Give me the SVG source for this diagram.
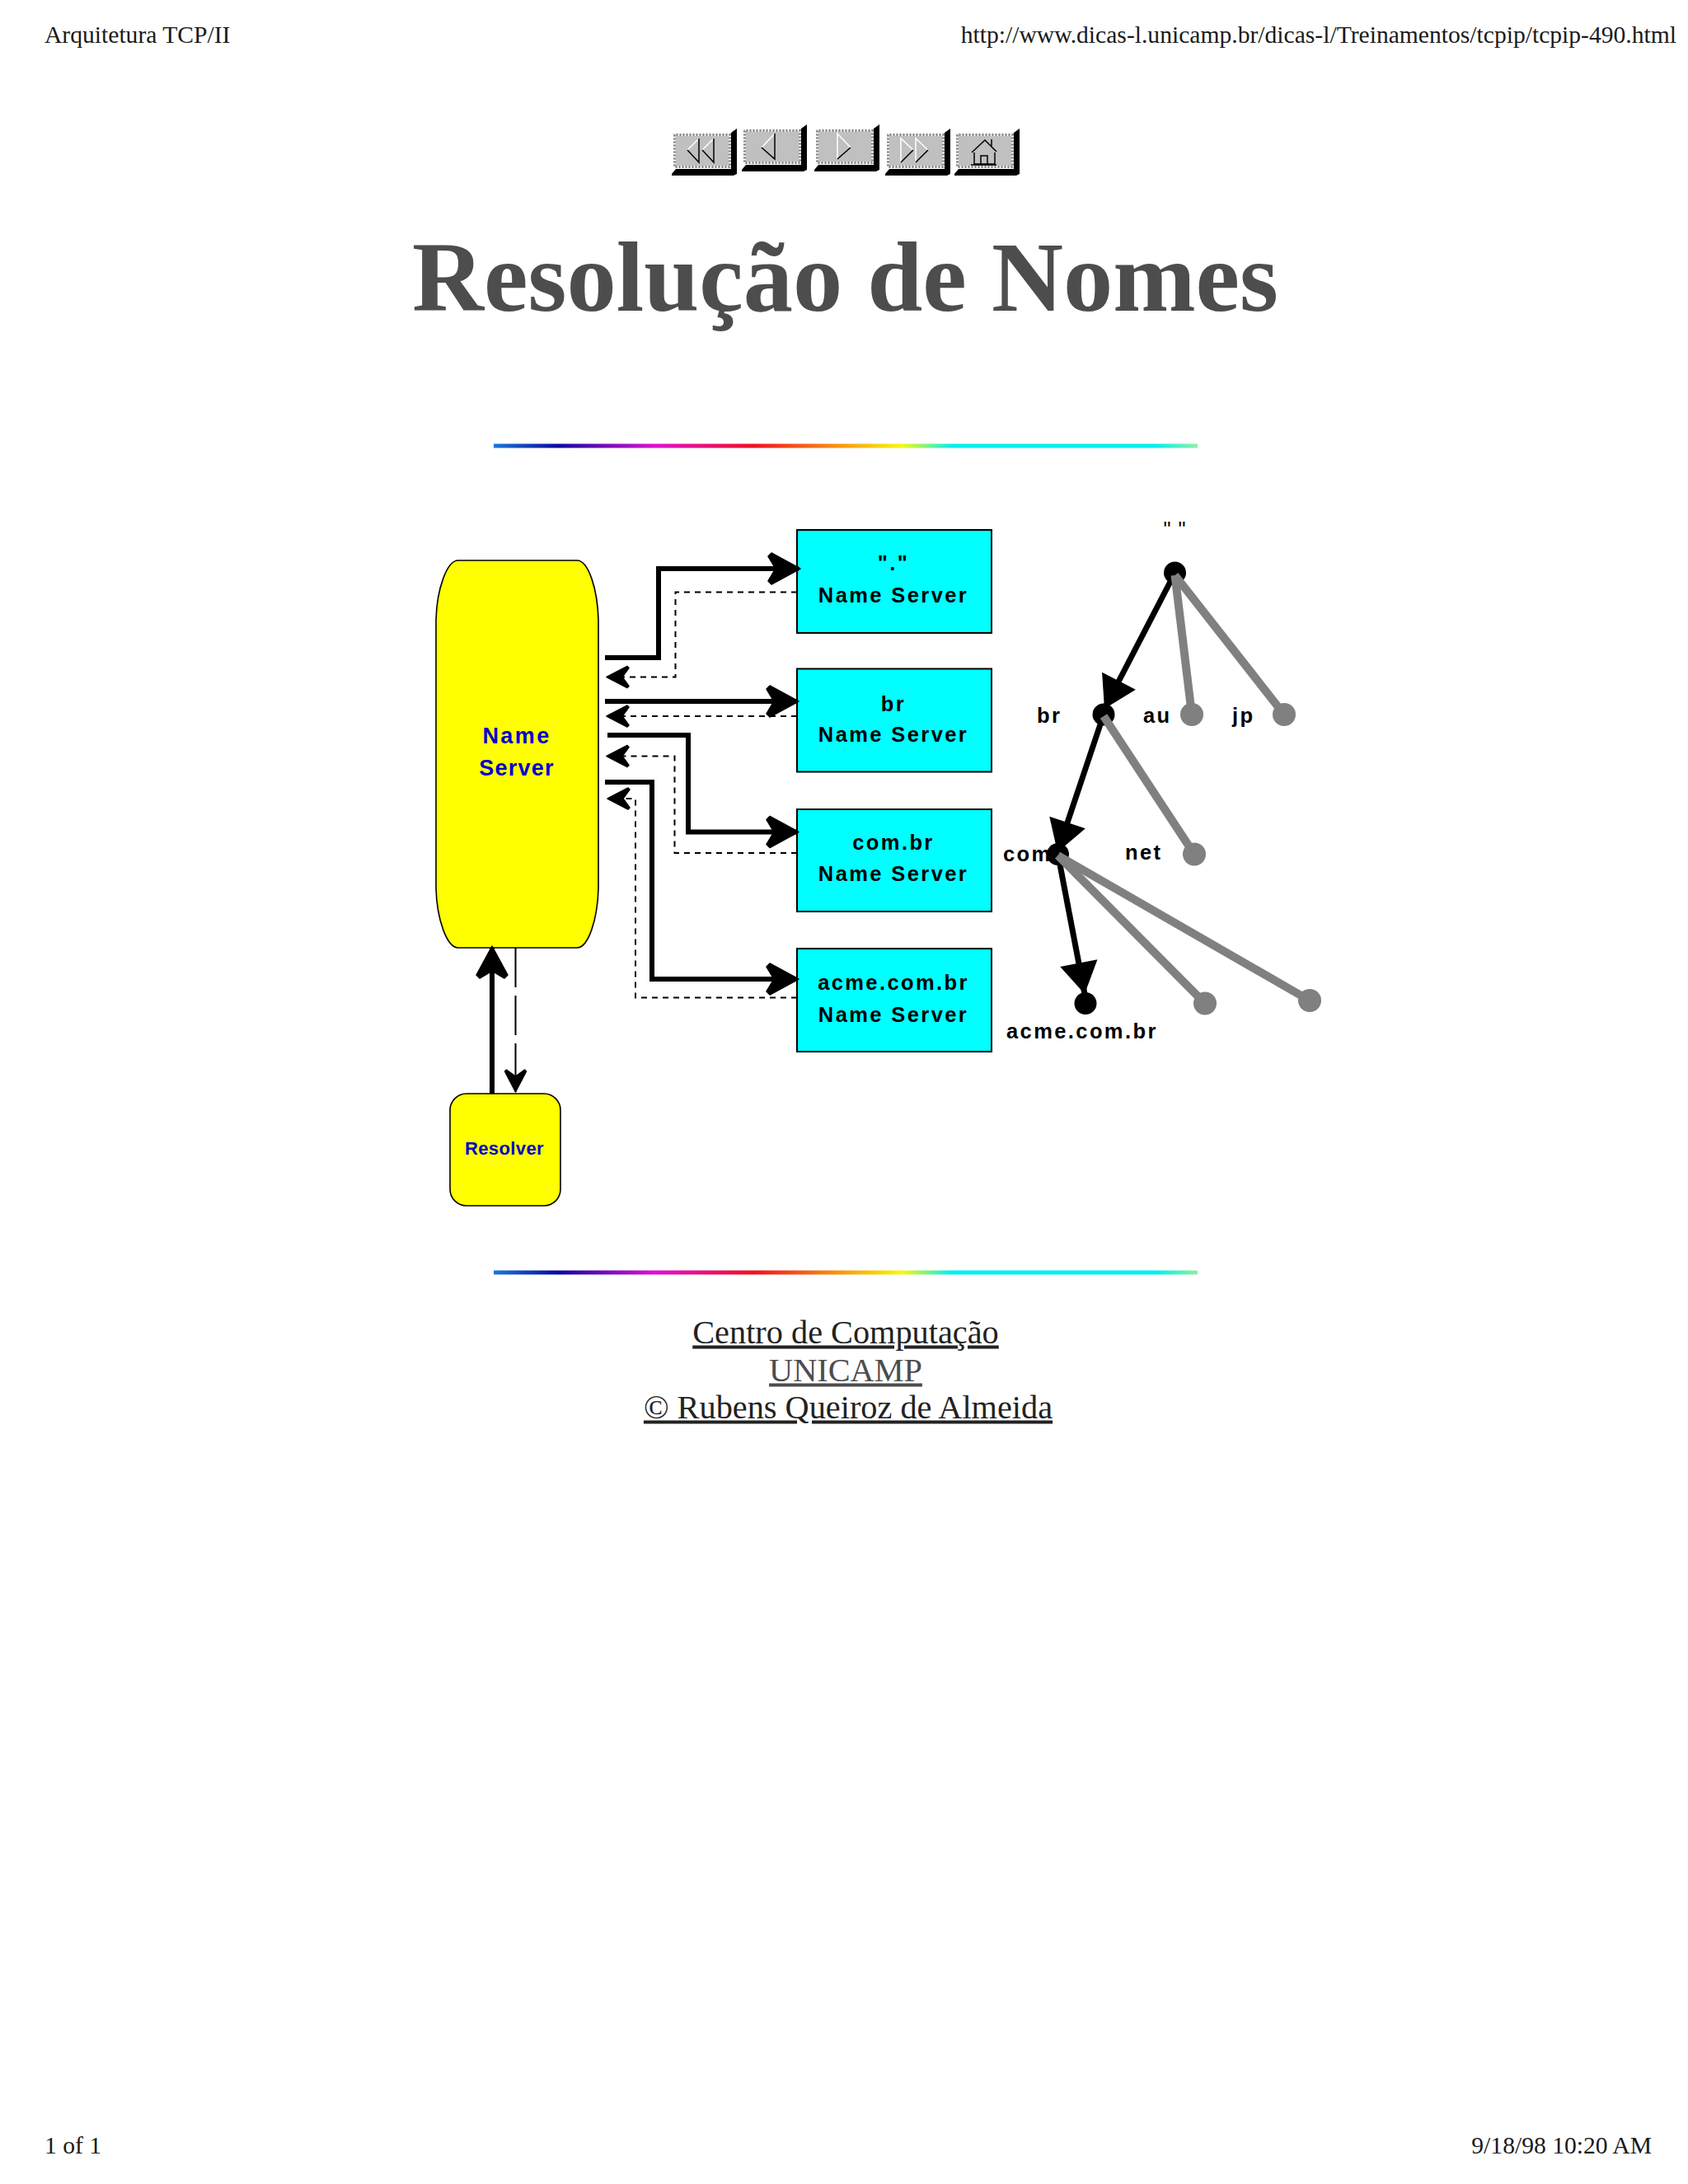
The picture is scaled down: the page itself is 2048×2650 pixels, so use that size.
<svg xmlns="http://www.w3.org/2000/svg" width="2048" height="2650" viewBox="0 0 2048 2650">
<style>
text{font-family:"Liberation Serif","Times New Roman",serif}
.hdr{font-size:29.6px;fill:#1a1a1a}
.title{font-size:120.5px;font-weight:bold;fill:#4d4d4d;text-anchor:middle}
.foot{font-size:40.3px;fill:#222;text-anchor:middle;text-decoration:underline}
.lbl,.tl,.blue{font-family:"Liberation Sans",Arial,sans-serif;font-weight:bold}
.lbl{font-size:25.5px;letter-spacing:2.4px;fill:#000;text-anchor:middle}
.tl{font-size:25.5px;letter-spacing:2.4px;fill:#000}
.blue{fill:#0000cc;text-anchor:middle}
.box{fill:#00ffff;stroke:#000;stroke-width:2}
.yel{fill:#ffff00;stroke:#000;stroke-width:1.6}
.s{fill:none;stroke:#000;stroke-width:6}
.d{fill:none;stroke:#000;stroke-width:2;stroke-dasharray:7 6}
.bk{stroke:#000;stroke-width:7}
.gr{stroke:#808080;stroke-width:10}
.wh{fill:none;stroke:#fff;stroke-width:1.5}
.da{fill:none;stroke:#000;stroke-width:1.5}
</style>
<defs>
<linearGradient id="rb" x1="0" x2="1" y1="0" y2="0">
<stop offset="0" stop-color="#1a78d8"/><stop offset=".09" stop-color="#0a0aa0"/><stop offset=".23" stop-color="#e010d0"/><stop offset=".37" stop-color="#f01020"/><stop offset=".5" stop-color="#f8a010"/><stop offset=".58" stop-color="#f8f810"/><stop offset=".65" stop-color="#00f0f0"/><stop offset=".94" stop-color="#00f0f0"/><stop offset="1" stop-color="#90f0a0"/>
</linearGradient>
<marker id="ah" markerUnits="userSpaceOnUse" markerWidth="44" markerHeight="44" refX="38" refY="21" orient="auto" viewBox="0 0 44 44"><path d="M40 21L5 2L1 6L10 21L1 36L5 40Z" fill="#000" stroke="#000" stroke-width="1.5" stroke-linejoin="round"/></marker>
<marker id="ad" markerUnits="userSpaceOnUse" markerWidth="32" markerHeight="32" refX="28" refY="15" orient="auto" viewBox="0 0 32 32"><path d="M28 15L3 2L1 4L9 15L1 26L3 28Z" fill="#000" stroke="#000" stroke-width="1.5" stroke-linejoin="round"/></marker>
<marker id="at" markerUnits="userSpaceOnUse" markerWidth="46" markerHeight="54" refX="40" refY="26" orient="auto" viewBox="0 0 46 54"><path d="M40 26L2 3L2 49Z" fill="#000"/></marker>
<g id="btn">
<path d="M-2 52L-2 49L3 43L70 43L70 -1L77 -6L77 49L73 51L-2 51Z" fill="#000"/>
<rect x="0" y="0" width="70" height="42" fill="#c0c0c0"/>
<rect x="1.5" y="1.5" width="67" height="39" fill="none" stroke="#fff" stroke-width="3" stroke-dasharray="2 2"/>
<rect x="1.5" y="1.5" width="67" height="39" fill="none" stroke="#888" stroke-width="3" stroke-dasharray="2 2" stroke-dashoffset="2"/>
</g>
</defs>
<rect width="2048" height="2650" fill="#fff"/>
<text class="hdr" x="54" y="51.5">Arquitetura TCP/II</text>
<text class="hdr" x="2034" y="51.5" text-anchor="end">http://www.dicas-l.unicamp.br/dicas-l/Treinamentos/tcpip/tcpip-490.html</text>
<g id="btn-first" transform="translate(817,162)"><use href="#btn"/><path class="wh" d="M31 6L17 20M49 6L35 20"/><path class="da" d="M17 20L31 35V6M35 20L49 35V6"/></g>
<g id="btn-prev" transform="translate(902,157)"><use href="#btn"/><path class="wh" d="M38 5L22 22"/><path class="da" d="M22 22L38 36V5"/></g>
<g id="btn-next" transform="translate(990,157)"><use href="#btn"/><path class="wh" d="M26 36V5L42 22"/><path class="da" d="M42 22L26 36"/></g>
<g id="btn-last" transform="translate(1076,162)"><use href="#btn"/><path class="wh" d="M17 35V6L32 20M35 35V6L50 20"/><path class="da" d="M32 20L17 35M50 20L35 35"/></g>
<g id="btn-home" transform="translate(1160,162)"><use href="#btn"/><path class="da" d="M19 23L35 8L49 22M43 7V15M22 23V37H47V23M18 38H49M30 37V27H38V37"/></g>
<text class="title" x="1025.5" y="377">Resolução de Nomes</text>
<rect id="rule-top" x="599" y="538.5" width="854" height="5" fill="url(#rb)"/>
<g id="name-server"><path class="yel" d="M556 680H700C714 680 725 715 726 752V1078C725 1115 714 1150 700 1150H556C542 1150 530 1115 529 1078V752C530 715 542 680 556 680Z"/><text class="blue" font-size="27" style="letter-spacing:2.4px" x="621" y="902" transform="translate(6,0)">Name</text><text class="blue" font-size="27" style="letter-spacing:1.2px" x="627" y="941">Server</text></g>
<g id="resolver"><rect class="yel" x="546" y="1327" width="134" height="136" rx="20" ry="20"/><text class="blue" font-size="22" style="letter-spacing:.4px" x="612" y="1401">Resolver</text></g>
<g id="ns-root"><rect class="box" x="967" y="643" width="236" height="125"/><text class="lbl" x="1084" y="692">"."</text><text class="lbl" x="1084" y="731">Name Server</text></g>
<g id="ns-br"><rect class="box" x="967" y="811.5" width="236" height="125"/><text class="lbl" x="1084" y="862.5">br</text><text class="lbl" x="1084" y="900">Name Server</text></g>
<g id="ns-com"><rect class="box" x="967" y="982" width="236" height="124"/><text class="lbl" x="1084" y="1030.5">com.br</text><text class="lbl" x="1084" y="1068.5">Name Server</text></g>
<g id="ns-acme"><rect class="box" x="967" y="1151" width="236" height="125"/><text class="lbl" x="1084" y="1201">acme.com.br</text><text class="lbl" x="1084" y="1239.5">Name Server</text></g>
<g id="t-root"><circle cx="1425.5" cy="695" r="13.5"/><text class="tl" x="1425.5" y="651" text-anchor="middle" style="font-weight:normal;letter-spacing:1px">" "</text></g>
<g id="t-br"><circle cx="1339" cy="867" r="13.5"/><text class="tl" x="1258" y="877">br</text></g>
<g id="t-com"><text class="tl" x="1217" y="1045">com</text><circle cx="1283.5" cy="1036.5" r="13.5"/></g>
<g id="t-acme"><circle cx="1317" cy="1217.5" r="13.5"/><text class="tl" x="1221" y="1260">acme.com.br</text></g>
<g id="t-au"><circle cx="1446" cy="867" r="14" fill="#808080"/><text class="tl" x="1387" y="877">au</text></g>
<g id="t-jp"><circle cx="1558" cy="867" r="14" fill="#808080"/><text class="tl" x="1495" y="877">jp</text></g>
<g id="t-net"><circle cx="1449" cy="1036.5" r="14" fill="#808080"/><text class="tl" x="1365" y="1043">net</text></g>
<g id="t-x"><circle cx="1462" cy="1217.5" r="14" fill="#808080"/></g>
<g id="t-y"><circle cx="1589" cy="1214" r="14" fill="#808080"/></g>
<g id="connectors">
<path class="s" marker-end="url(#ah)" d="M734 798H799V690H969"/>
<path class="s" marker-end="url(#ah)" d="M734 851H967"/>
<path class="s" marker-end="url(#ah)" d="M737 892H835V1009.5H967"/>
<path class="s" marker-end="url(#ah)" d="M734 949H791V1188H967"/>
<path class="d" marker-end="url(#ad)" d="M967 718.5H819.5V821.5H736"/>
<path class="d" marker-end="url(#ad)" d="M967 869H736"/>
<path class="d" marker-end="url(#ad)" d="M967 1035H818.5V917.5H736"/>
<path class="d" marker-end="url(#ad)" d="M967 1210.5H771V969H737"/>
<path class="s" marker-end="url(#ah)" d="M597 1327V1150"/>
<path fill="none" stroke="#000" stroke-width="2" stroke-dasharray="48 10" marker-end="url(#ad)" d="M625.5 1150V1325"/>
<line class="bk" x1="1425.5" y1="695" x2="1340" y2="860" marker-end="url(#at)"/>
<line class="bk" x1="1339" y1="867" x2="1283" y2="1034" marker-end="url(#at)"/>
<line class="bk" x1="1283.5" y1="1036" x2="1316" y2="1206" marker-end="url(#at)"/>
<line class="gr" x1="1425.5" y1="698" x2="1446" y2="867"/>
<line class="gr" x1="1425.5" y1="698" x2="1558" y2="867"/>
<line class="gr" x1="1339" y1="869" x2="1449" y2="1036.5"/>
<line class="gr" x1="1283.5" y1="1038" x2="1462" y2="1217.5"/>
<line class="gr" x1="1283.5" y1="1038" x2="1589" y2="1214"/>
</g>
<rect id="rule-bottom" x="599" y="1541.5" width="854" height="5" fill="url(#rb)"/>
<text class="foot" x="1026" y="1629.5">Centro de Computação</text>
<text class="foot" x="1026" y="1675.5" style="fill:#4d4d4d">UNICAMP</text>
<text class="foot" x="1029" y="1720.5">© Rubens Queiroz de Almeida</text>
<text class="hdr" x="54" y="2613">1 of 1</text>
<text class="hdr" x="2004" y="2613" text-anchor="end">9/18/98 10:20 AM</text>
</svg>
